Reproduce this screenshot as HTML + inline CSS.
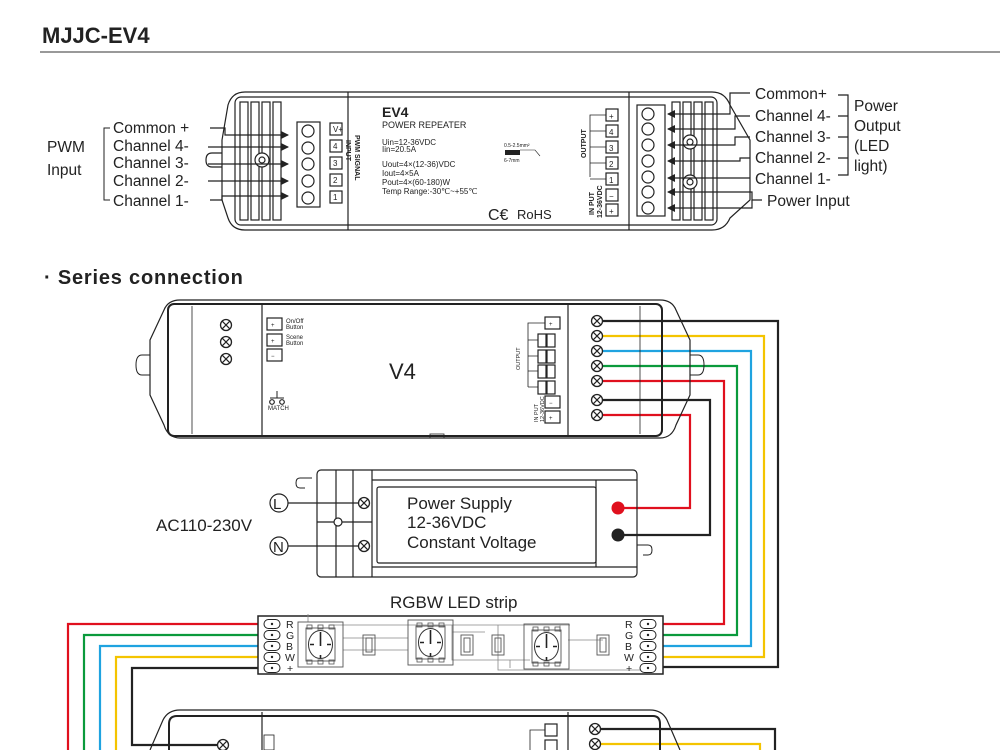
<!DOCTYPE html>
<html><head><meta charset="utf-8"><style>
html,body{margin:0;padding:0;background:#fff;width:1000px;height:750px;overflow:hidden}
svg{display:block}
text{font-family:"Liberation Sans",sans-serif;fill:#222}
</style></head><body>
<svg width="1000" height="750" viewBox="0 0 1000 750" xmlns="http://www.w3.org/2000/svg">
<defs>
<marker id="ar" markerWidth="8" markerHeight="8" refX="7" refY="4" orient="auto" markerUnits="userSpaceOnUse"><path d="M0,0 L8,4 L0,8 z" fill="#222"/></marker>
<g id="xt"><circle r="5.5" fill="#fff" stroke="#222" stroke-width="1.3"/><path d="M-3.9,-3.9 L3.9,3.9 M3.9,-3.9 L-3.9,3.9" stroke="#222" stroke-width="1.2"/></g>
<g id="pad"><rect x="-8" y="-4.5" width="16" height="9" rx="4.5" fill="#fff" stroke="#222" stroke-width="1"/><circle r="1.2" fill="#222"/></g>
<g id="led"><rect x="0" y="0" width="45" height="45" fill="none" stroke="#555" stroke-width="0.9"/><rect x="8" y="6" width="29" height="33" fill="none" stroke="#555" stroke-width="0.9"/><ellipse cx="22.5" cy="22.5" rx="12" ry="14" fill="none" stroke="#333" stroke-width="1"/><path d="M22.5,10 V24 M12,22.5 H16 M29,22.5 H33 M22.5,33 V36" stroke="#222" stroke-width="1.6"/><rect x="9" y="3" width="5" height="4" fill="none" stroke="#555" stroke-width="0.8"/><rect x="20" y="3" width="5" height="4" fill="none" stroke="#555" stroke-width="0.8"/><rect x="31" y="3" width="5" height="4" fill="none" stroke="#555" stroke-width="0.8"/><rect x="9" y="38" width="5" height="4" fill="none" stroke="#555" stroke-width="0.8"/><rect x="20" y="38" width="5" height="4" fill="none" stroke="#555" stroke-width="0.8"/><rect x="31" y="38" width="5" height="4" fill="none" stroke="#555" stroke-width="0.8"/></g>
<g id="res"><rect x="-6" y="-10" width="12" height="20" fill="none" stroke="#555" stroke-width="0.9"/><rect x="-3" y="-7" width="6" height="14" fill="none" stroke="#555" stroke-width="0.9"/></g>
</defs>

<text x="42" y="43" font-size="22" font-weight="bold" fill="#111">MJJC-EV4</text>
<line x1="40" y1="52" x2="1000" y2="52" stroke="#999" stroke-width="2"/>

<g stroke="#222" fill="none" stroke-width="1.2">
<path d="M245,92 H712 Q725,92 730,105 L750,140 V200 L730,218 Q725,230 712,230 H245 Q232,230 228,218 L222,200 V140 L228,105 Q232,92 245,92 Z"/>
<rect x="235" y="97" width="482" height="128" rx="6"/>
<line x1="348" y1="92" x2="348" y2="230"/><line x1="629" y1="92" x2="629" y2="230"/>
<rect x="240" y="102" width="8" height="118"/><rect x="251" y="102" width="8" height="118"/><rect x="262" y="102" width="8" height="118"/><rect x="273" y="102" width="8" height="118"/>
<rect x="672" y="102" width="8" height="118"/><rect x="683" y="102" width="8" height="118"/><rect x="694" y="102" width="8" height="118"/><rect x="705" y="102" width="8" height="118"/>
<circle cx="262" cy="160" r="7" fill="#fff"/><circle cx="262" cy="160" r="3"/>
<circle cx="690" cy="142" r="7" fill="#fff"/><circle cx="690" cy="142" r="3"/>
<circle cx="690" cy="182" r="7" fill="#fff"/><circle cx="690" cy="182" r="3"/>
<path d="M222,153 H212 Q206,153 206,160 Q206,167 212,167 H222"/>
<rect x="297" y="122" width="23" height="85"/>
<circle cx="308" cy="131" r="6"/><circle cx="308" cy="148" r="6"/><circle cx="308" cy="164" r="6"/><circle cx="308" cy="181" r="6"/><circle cx="308" cy="198" r="6"/>
<rect x="330" y="123" width="12" height="12"/><rect x="330" y="140" width="12" height="12"/><rect x="330" y="157" width="12" height="12"/><rect x="330" y="174" width="12" height="12"/><rect x="330" y="191" width="12" height="12"/>
<rect x="637" y="105" width="28" height="111"/>
<circle cx="648" cy="114" r="6"/><circle cx="648" cy="129" r="6"/><circle cx="648" cy="145" r="6"/><circle cx="648" cy="161" r="6"/><circle cx="648" cy="177" r="6"/><circle cx="648" cy="192" r="6"/><circle cx="648" cy="208" r="6"/>
<rect x="606" y="109" width="12" height="12"/><rect x="606" y="125" width="12" height="12"/><rect x="606" y="141" width="12" height="12"/><rect x="606" y="157" width="12" height="12"/><rect x="606" y="173" width="12" height="12"/><rect x="606" y="189" width="12" height="12"/><rect x="606" y="204" width="12" height="12"/>
<path d="M606,115 H590 V177 M590,131 H606 M590,147 H606 M590,163 H606 M590,179 H606" stroke-width="0.8"/>
<rect x="505" y="150" width="15" height="5" fill="#222" stroke="none"/><path d="M520,150 H535 L540,156" stroke-width="0.6"/>
<path d="M210,128 H225 V135 H288" marker-end="url(#ar)"/>
<path d="M208,147 H288" marker-end="url(#ar)"/>
<path d="M208,164 H288" marker-end="url(#ar)"/>
<path d="M208,181 H288" marker-end="url(#ar)"/>
<path d="M210,200 H222 V196 H288" marker-end="url(#ar)"/>
<path d="M110,128 H104 V200 H110" stroke-width="1"/>
<path d="M750,93 H730 V114 H668" marker-end="url(#ar)"/>
<path d="M750,116 H735 V129 H668" marker-end="url(#ar)"/>
<path d="M750,137 H735 V145 H668" marker-end="url(#ar)"/>
<path d="M750,158 H740 V161 H668" marker-end="url(#ar)"/>
<path d="M750,178 H668" marker-end="url(#ar)"/>
<path d="M762,200 H752 V192 H668" marker-end="url(#ar)"/>
<path d="M752,200 V208 H668" marker-end="url(#ar)"/>
<path d="M838,95 H848 V175 H838 M838,116 H848 M838,137 H848 M838,158 H848"/>
</g>
<g font-size="8" fill="#222">
<text x="333" y="132">V+</text><text x="333" y="149">4</text><text x="333" y="166">3</text><text x="333" y="183">2</text><text x="333" y="200">1</text>
<text x="609" y="119">+</text><text x="609" y="135">4</text><text x="609" y="151">3</text><text x="609" y="167">2</text><text x="609" y="183">1</text><text x="609" y="199">−</text><text x="609" y="214">+</text>
</g>
<text x="0" y="0" font-size="7" font-weight="bold" transform="translate(346,140) rotate(90)">INPUT</text>
<text x="0" y="0" font-size="7" font-weight="bold" transform="translate(355,135) rotate(90)">PWM SIGNAL</text>
<text x="0" y="0" font-size="7" font-weight="bold" transform="translate(586,158) rotate(-90)">OUTPUT</text>
<text x="0" y="0" font-size="7" font-weight="bold" transform="translate(594,215) rotate(-90)">IN PUT</text>
<text x="0" y="0" font-size="7" font-weight="bold" transform="translate(602,218) rotate(-90)">12-36VDC</text>
<text x="382" y="117" font-size="14" font-weight="bold">EV4</text>
<text x="382" y="128" font-size="9">POWER REPEATER</text>
<g font-size="8"><text x="382" y="145">Uin=12-36VDC</text><text x="382" y="152">Iin=20.5A</text>
<text x="382" y="167">Uout=4×(12-36)VDC</text><text x="382" y="176">Iout=4×5A</text><text x="382" y="185">Pout=4×(60-180)W</text><text x="382" y="194">Temp Range:-30℃~+55℃</text></g>
<text x="504" y="147" font-size="5">0.5-2.5mm²</text><text x="504" y="162" font-size="5">6-7mm</text>
<text x="488" y="220" font-size="16">C€</text><text x="517" y="219" font-size="13">RoHS</text>
<g font-size="15.5">
<text x="47" y="152">PWM</text><text x="47" y="175">Input</text>
<text x="113" y="133">Common +</text><text x="113" y="151">Channel 4-</text><text x="113" y="168">Channel 3-</text><text x="113" y="186">Channel 2-</text><text x="113" y="206">Channel 1-</text>
<text x="755" y="99">Common+</text><text x="755" y="121">Channel 4-</text><text x="755" y="142">Channel 3-</text><text x="755" y="163">Channel 2-</text><text x="755" y="184">Channel 1-</text><text x="767" y="206">Power Input</text>
<text x="854" y="111">Power</text><text x="854" y="131">Output</text><text x="854" y="151">(LED</text><text x="854" y="171">light)</text>
</g>

<text x="44" y="284" font-size="20" font-weight="bold" fill="#111" letter-spacing="0.8">· Series connection</text>

<g fill="none" stroke-width="2.2">
<path d="M597,321 H778 V667 H648" stroke="#222"/>
<path d="M597,336 H764 V657 H648" stroke="#f4c400"/>
<path d="M597,351 H751 V646 H648" stroke="#1fa3e0"/>
<path d="M597,366 H737 V635 H648" stroke="#0a9a3c"/>
<path d="M597,381 H724 V624 H648" stroke="#e0101e"/>
<path d="M597,400 H710 V535 H618" stroke="#222"/>
<path d="M597,415 H690 V508 H618" stroke="#e0101e"/>
<path d="M272,624 H68 V750" stroke="#e0101e"/>
<path d="M272,635 H84 V750" stroke="#0a9a3c"/>
<path d="M272,646 H100 V750" stroke="#1fa3e0"/>
<path d="M272,657 H116 V750" stroke="#f4c400"/>
<path d="M272,668 H132 V745 H223" stroke="#222"/>
<path d="M595,729 H775 V750" stroke="#222"/>
<path d="M595,744 H760 V750" stroke="#f4c400"/>
</g>

<g stroke="#222" fill="none" stroke-width="1.2">
<path d="M180,300 H660 Q672,300 676,310 L690,340 V395 L676,425 Q672,438 660,438 H180 Q168,438 164,425 L150,395 V340 L164,310 Q168,300 180,300 Z"/>
<rect x="168" y="304" width="494" height="132" rx="6" stroke-width="2"/>
<line x1="262" y1="304" x2="262" y2="436"/><line x1="568" y1="304" x2="568" y2="436"/>
<line x1="192" y1="306" x2="192" y2="434" stroke-width="0.8"/><line x1="640" y1="306" x2="640" y2="434" stroke-width="0.8"/>
<path d="M150,355 H142 Q136,355 136,365 Q136,375 142,375 H150 M690,355 H698 Q704,355 704,365 Q704,375 698,375 H690" stroke-width="1"/>
<rect x="267" y="318" width="15" height="12"/><rect x="267" y="334" width="15" height="12"/><rect x="267" y="349" width="15" height="12"/>
<rect x="545" y="317" width="15" height="12"/><rect x="545" y="396" width="15" height="12"/><rect x="545" y="411" width="15" height="12"/>
<rect x="538" y="334" width="8" height="13"/><rect x="547" y="334" width="8" height="13"/>
<rect x="538" y="350" width="8" height="13"/><rect x="547" y="350" width="8" height="13"/>
<rect x="538" y="365" width="8" height="13"/><rect x="547" y="365" width="8" height="13"/>
<rect x="538" y="381" width="8" height="13"/><rect x="547" y="381" width="8" height="13"/>
<path d="M545,323 H528 V387 M528,340 H538 M528,356 H538 M528,371 H538 M528,387 H538" stroke-width="0.8"/>
<path d="M270,398 H284 M277,398 V391" stroke-width="1"/><circle cx="272" cy="402" r="2.3"/><circle cx="282" cy="402" r="2.3"/>
<rect x="430" y="434" width="14" height="4" stroke-width="0.8"/>
</g>
<use href="#xt" x="226" y="325"/><use href="#xt" x="226" y="342"/><use href="#xt" x="226" y="359"/>
<use href="#xt" x="597" y="321"/><use href="#xt" x="597" y="336"/><use href="#xt" x="597" y="351"/><use href="#xt" x="597" y="366"/><use href="#xt" x="597" y="381"/><use href="#xt" x="597" y="400"/><use href="#xt" x="597" y="415"/>
<g font-size="6"><text x="271" y="327">+</text><text x="271" y="343">+</text><text x="271" y="358">−</text>
<text x="286" y="323">On/Off</text><text x="286" y="329">Button</text><text x="286" y="339">Scene</text><text x="286" y="345">Button</text>
<text x="268" y="410">MATCH</text><text x="549" y="326">+</text><text x="549" y="405">−</text><text x="549" y="420">+</text></g>
<text x="389" y="379" font-size="22">V4</text>
<text x="0" y="0" font-size="5.5" transform="translate(520,370) rotate(-90)">OUTPUT</text>
<text x="0" y="0" font-size="5.5" transform="translate(538,422) rotate(-90)">IN PUT</text>
<text x="0" y="0" font-size="5.5" transform="translate(544,422) rotate(-90)">12-36VDC</text>

<g stroke="#222" fill="none" stroke-width="1.2">
<rect x="317" y="470" width="320" height="107" rx="4"/>
<line x1="336" y1="470" x2="336" y2="577"/><line x1="353" y1="470" x2="353" y2="577"/><line x1="372" y1="470" x2="372" y2="577"/>
<line x1="372" y1="480" x2="637" y2="480"/><line x1="372" y1="567" x2="637" y2="567"/><line x1="596" y1="480" x2="596" y2="567"/>
<rect x="377" y="487" width="219" height="76" rx="2"/>
<path d="M288,503 H365 M288,546 H365 M317,522 H372"/><circle cx="338" cy="522" r="4" fill="#fff"/>
<path d="M312,478 H300 Q296,478 296,483 Q296,488 300,488 H305 M637,545 H648 Q652,545 652,550 Q652,555 648,555 H643" stroke-width="1"/>
</g>
<use href="#xt" x="364" y="503"/><use href="#xt" x="364" y="546"/>
<circle cx="279" cy="503" r="9" fill="#fff" stroke="#222" stroke-width="1.2"/><text x="273" y="509" font-size="15" fill="#e0101e">L</text>
<circle cx="279" cy="546" r="9" fill="#fff" stroke="#222" stroke-width="1.2"/><text x="273" y="552" font-size="15">N</text>
<circle cx="618" cy="508" r="6.5" fill="#e0101e"/><circle cx="618" cy="535" r="6.5" fill="#222"/>
<text x="407" y="509" font-size="17">Power Supply</text><text x="407" y="528" font-size="17">12-36VDC</text><text x="407" y="548" font-size="17">Constant Voltage</text>
<text x="156" y="531" font-size="17">AC110-230V</text>

<text x="390" y="608" font-size="17">RGBW LED strip</text>
<rect x="258" y="616" width="405" height="58" fill="#fff" stroke="#222" stroke-width="1.5"/>
<g stroke="#888" stroke-width="0.8" fill="none">
<path d="M308,622 V614 M330,625 H570 M318,625 V631 M343,638 H408 M343,650 H408 M452,625 V660 H530 M498,625 V670 H640 M568,640 H603 M560,632 V625 M510,660 V668 M452,632 H485"/>
</g>
<use href="#led" x="298" y="622"/><use href="#led" x="408" y="620"/><use href="#led" x="524" y="624"/>
<use href="#res" x="369" y="645"/><use href="#res" x="467" y="645"/><use href="#res" x="498" y="645"/><use href="#res" x="603" y="645"/>
<use href="#pad" x="272" y="624"/><use href="#pad" x="272" y="635"/><use href="#pad" x="272" y="646"/><use href="#pad" x="272" y="657"/><use href="#pad" x="272" y="668"/>
<use href="#pad" x="648" y="624"/><use href="#pad" x="648" y="635"/><use href="#pad" x="648" y="646"/><use href="#pad" x="648" y="657"/><use href="#pad" x="648" y="668"/>
<g font-size="10.5"><text x="286" y="628">R</text><text x="286" y="639">G</text><text x="286" y="650">B</text><text x="285" y="661">W</text><text x="287" y="672">+</text>
<text x="625" y="628">R</text><text x="625" y="639">G</text><text x="625" y="650">B</text><text x="624" y="661">W</text><text x="626" y="672">+</text></g>

<g stroke="#222" fill="none" stroke-width="1.2">
<path d="M150,750 L163,720 Q168,710 180,710 H650 Q662,710 667,720 L680,750"/>
<path d="M169,750 V724 Q169,716 177,716 H653 Q660,716 660,724 V750" stroke-width="2"/>
<line x1="262" y1="712" x2="262" y2="750"/><line x1="568" y1="712" x2="568" y2="750"/>
<rect x="264" y="735" width="10" height="15" stroke-width="0.8"/>
<rect x="545" y="724" width="12" height="12"/><rect x="545" y="740" width="12" height="12"/>
<path d="M545,730 H530 V750" stroke-width="0.8"/>
</g>
<use href="#xt" x="223" y="745"/><use href="#xt" x="595" y="729"/><use href="#xt" x="595" y="744"/>
</svg>
</body></html>
